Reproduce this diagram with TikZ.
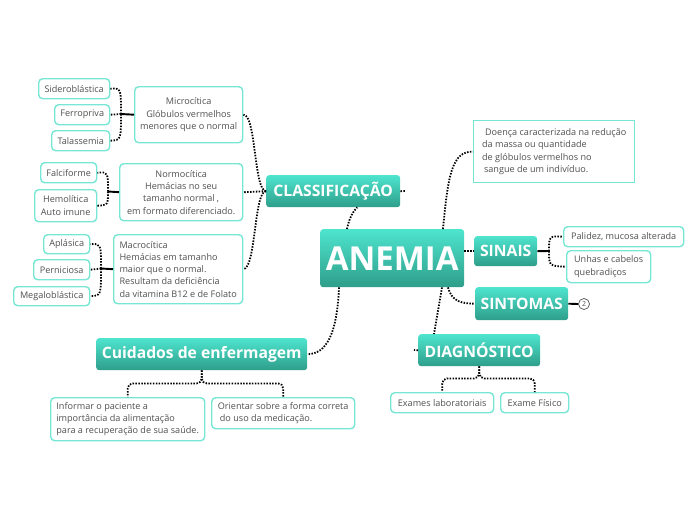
\documentclass[tikz,border=0pt]{standalone}
\usepackage{fontspec}
\setmainfont{Open Sans}
\definecolor{tealtop}{RGB}{78,228,206}
\definecolor{tealbot}{RGB}{46,158,138}
\definecolor{leafborder}{RGB}{120,230,212}
\definecolor{leaftext}{RGB}{80,80,80}
\tikzset{
  topic/.style={anchor=north west, rounded corners=3pt, top color=tealtop, bottom color=tealbot, draw=none,
    text=white, font=\bfseries\fontsize{15.7}{17}\selectfont, inner sep=0pt, align=center},
  leaf/.style={anchor=north west, rounded corners=4pt, draw=leafborder, line width=1.4pt, fill=white,
    text=leaftext, font=\fontsize{9.1}{12.3}\selectfont, inner sep=0pt, align=center},
  conn/.style={line width=1.8pt, dash pattern=on 1.5pt off 1.4pt, black},
  solidc/.style={line width=1.9pt, black},
}
\begin{document}
\begin{tikzpicture}[x=1pt,y=-1pt]
\useasboundingbox (0,0) rectangle (696,520);
% main topics
\node[topic, minimum width=144pt, minimum height=58pt, font=\bfseries\fontsize{33}{36}\selectfont] (anemia) at (320,229) {ANEMIA};
\node[topic, minimum width=134pt, minimum height=32pt] (classif) at (266,175) {CLASSIFICAÇÃO};
\node[topic, minimum width=63pt, minimum height=30pt] (sinais) at (474,236) {SINAIS};
\node[topic, minimum width=93pt, minimum height=33pt] (sintomas) at (475,287) {SINTOMAS};
\node[topic, minimum width=122pt, minimum height=32pt] (diag) at (418,334) {DIAGNÓSTICO};
\node[topic, minimum width=211pt, minimum height=32pt] (cuid) at (96,338) {Cuidados de enfermagem};
% definition
\node[leaf, rounded corners=0pt, minimum width=161pt, minimum height=62pt, align=left] (def) at (473,120)
  {\hspace*{3pt}Doença caracterizada na redução\\da massa ou quantidade\\de glóbulos vermelhos no\\\hspace*{2pt}sangue de um indivíduo.};
% sinais
\node[leaf, minimum width=120pt, minimum height=20pt] (palidez) at (563,226) {Palidez, mucosa alterada};
\node[leaf, minimum width=84pt, minimum height=32pt, align=left] (unhas) at (566,250) {Unhas e cabelos\\quebradiços};
\node[draw=leaftext, line width=0.7pt, circle, minimum size=11pt, inner sep=0pt, text=leaftext, font=\fontsize{7}{8}\selectfont] (two) at (584,304) {2};
% classification
\node[leaf, minimum width=108pt, minimum height=56pt] (micro) at (134,86) {Microcítica\\Glóbulos vermelhos\\menores que o normal};
\node[leaf, minimum width=71pt, minimum height=20pt] (sidero) at (38,78) {Sideroblástica};
\node[leaf, minimum width=55pt, minimum height=20pt] (ferro) at (54,104) {Ferropriva};
\node[leaf, minimum width=58pt, minimum height=20pt] (tala) at (51,130) {Talassemia};
\node[leaf, minimum width=123pt, minimum height=57pt] (normo) at (119,163) {Normocítica\\Hemácias no seu\\tamanho normal ,\\em formato diferenciado.};
\node[leaf, minimum width=56pt, minimum height=20pt] (falci) at (40,162) {Falciforme};
\node[leaf, minimum width=62pt, minimum height=32pt] (hemo) at (34,189) {Hemolítica\\Auto imune};
\node[leaf, minimum width=129pt, minimum height=69pt, align=left] (macro) at (113,234) {Macrocítica\\Hemácias em tamanho\\maior que o normal.\\Resultam da deficiência\\da vitamina B12 e de Folato};
\node[leaf, minimum width=46pt, minimum height=19pt] (apla) at (43,234) {Aplásica};
\node[leaf, minimum width=56pt, minimum height=20pt] (perni) at (33,259) {Perniciosa};
\node[leaf, minimum width=76pt, minimum height=19pt] (mega) at (13,286) {Megaloblástica};
% cuidados
\node[leaf, minimum width=154pt, minimum height=43pt, align=left] (informar) at (50,397) {Informar o paciente a\\importância da alimentação\\para a recuperação de sua saúde.};
\node[leaf, minimum width=143pt, minimum height=31pt, align=left] (orientar) at (211,397) {Orientar sobre a forma correta\\\hspace*{2pt}do uso da medicação.};
% diagnostico
\node[leaf, minimum width=103pt, minimum height=20pt] (exames) at (390,392) {Exames laboratoriais};
\node[leaf, minimum width=68pt, minimum height=20pt] (fisico) at (500,392) {Exame Físico};

% junction coordinates
\coordinate (mj) at (121,114);
\coordinate (nj) at (108,191.5);
\coordinate (aj) at (101,268.5);
\coordinate (sj) at (549,251);
\coordinate (cstub) at (405,191);
\coordinate (dstub) at (414,350);

% connectors from ANEMIA
\draw[conn] ([xshift=27pt]anemia.north west) .. controls (349,218) and (354,210) .. ([xshift=24pt]classif.south);
\draw[conn] ([xshift=123pt]anemia.north west) .. controls (448,175) and (452,151) .. (def.west);
\draw[conn] (anemia.east |- sinais.west) -- (sinais.west);
\draw[conn] ([xshift=128pt]anemia.south west) .. controls (452,302) and (462,303.5) .. (sintomas.west);
\draw[conn] ([xshift=122pt]anemia.south west) -- ([xshift=16pt]diag.north west);
\draw[conn] ([xshift=19pt]anemia.south west) .. controls (337,335) and (326,354) .. (cuid.east);
% stubs
\draw[conn] (classif.east) -- (cstub);
\draw[conn] (diag.west) -- (dstub);

% classification branches
\draw[conn] (classif.west) -- (normo.east);
\draw[conn] (classif.west) .. controls (254,191) and (256,114) .. (micro.east);
\draw[conn] (classif.west) .. controls (254,191) and (256,268.5) .. (macro.east);

% microcitica bracket
\draw[solidc] (micro.west) -- (mj);
\draw[conn] (mj) .. controls (121,88) .. (sidero.east);
\draw[conn] (mj) -- (ferro.east);
\draw[conn] (mj) .. controls (121,140) .. (tala.east);
% normocitica bracket
\draw[solidc] (normo.west) -- (nj);
\draw[conn] (nj) .. controls (108,172) .. (falci.east);
\draw[conn] (nj) .. controls (108,205) .. (hemo.east);
% macrocitica bracket
\draw[solidc] (macro.west) -- (aj);
\draw[conn] (aj) .. controls (101,243.5) .. (apla.east);
\draw[conn] (aj) -- (perni.east);
\draw[conn] (aj) .. controls (101,295.5) .. (mega.east);
% sinais bracket
\draw[solidc] (sinais.east) -- (sj);
\draw[conn] (sj) .. controls (549,236) .. (palidez.west);
\draw[conn] (sj) .. controls (549,266) .. (unhas.west);
% sintomas
\draw[solidc] (sintomas.east) -- (two.west);
% diagnostico
\draw[conn, rounded corners=5pt] (diag.south) -- ++(0,12) -| (exames.north);
\draw[conn, rounded corners=5pt] (diag.south) -- ++(0,12) -| (fisico.north);
% cuidados
\draw[conn, rounded corners=5pt] (cuid.south) -- ++(0,13) -| (informar.north);
\draw[conn, rounded corners=5pt] (cuid.south) -- ++(0,13) -| (orientar.north);
\end{tikzpicture}
\end{document}
